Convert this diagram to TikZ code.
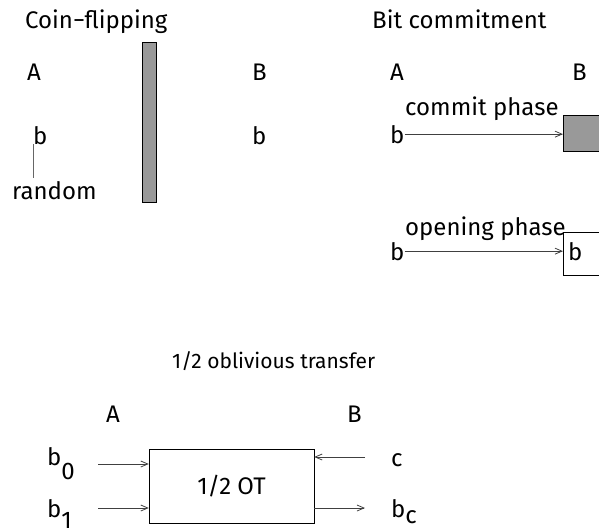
\documentclass[tikz,border=0pt]{standalone}
\usepackage{fontspec}
\setmainfont{Fira Sans}
\usetikzlibrary{positioning, arrows.meta}

\begin{document}
\begin{tikzpicture}[
        x = 1pt, y = -1pt,
        ->,
        >= {Straight Barb[length = 7pt, width = 6pt]},
        every node/.style = {font = \fontsize{24}{28}\selectfont, inner sep = 0pt},
        lbl/.style = {anchor = base west},
        wall/.style = {draw, fill = gray!80},
        box/.style = {draw, anchor = north west},
        wire/.style = {draw = black!75, line width = 0.8pt}]

      \clip (0,0) rectangle (599,528);

      %coin-flipping
      \node[lbl] (CoinTitle) at (25,28) {Coin−flipping};
      \node[lbl] (CoinA) at (27,80) {A};
      \node[lbl] (CoinB) at (252,80) {B};
      \node[lbl] (CoinbA) at (33,144) {b};
      \node[lbl] (CoinbB) at (252,144) {b};
      \node[lbl] (Random) at (12,199) {random};
      \node[wall, minimum width = 14, minimum height = 160] (Wall) at (149,122) {};

      %bit commitment
      \node[lbl] (BitTitle) at (372,28) {Bit commitment};
      \node[lbl] (BitA) at (390,80) {A};
      \node[lbl] (BitB) at (572,80) {B};
      \node[lbl] (CommitLabel) at (405,115) {commit phase};
      \node[lbl] (CommitBit) at (390,143) {b};
      \node[box, fill = gray!80, minimum width = 50, minimum height = 36] (CommitBox) at (563,115) {};
      \node[lbl] (OpenLabel) at (405,235) {opening phase};
      \node[lbl] (OpenBit) at (390,260) {b};
      \node[box, minimum width = 50, minimum height = 43] (OpenBox) at (563,232) {};
      \node[lbl] (OpenBoxBit) at (568,260) {b};

      %oblivious transfer
      \node[lbl, font = \fontsize{21}{25}\selectfont] (OTTitle) at (172,368) {1/2 oblivious transfer};
      \node[lbl] (OTA) at (106,422) {A};
      \node[lbl] (OTB) at (347,422) {B};
      \node[draw, minimum width = 165, minimum height = 74] (OT) at (231.5,486) {1/2 OT};
      \node[lbl] (BZero) at (47,465) {b\raisebox{-14pt}{0}};
      \node[lbl] (BOne) at (47,517) {b\raisebox{-11pt}{1}};
      \node[lbl] (Choice) at (391,466) {c};
      \node[lbl] (BChoice) at (391,517) {b\raisebox{-6pt}{c}};
      \coordinate (BZeroIn) at (98,464);
      \coordinate (BOneIn) at (98,508);
      \coordinate (ChoiceIn) at (365,457);
      \coordinate (BChoiceOut) at (365,508);

      \begin{scope}[-]
      %line to random
        \path
        (CoinbA.south west) edge[draw = black!60, line width = 0.8pt, shorten > = 3pt] (CoinbA.south west |- Random.north)
        ;
      \end{scope}

      \begin{scope}[every edge/.append style = wire]
      %messages
        \path
        (CommitBit.east) edge (CommitBit.east -| CommitBox.west)
        (OpenBit.east) edge (OpenBit.east -| OpenBox.west)
        (BZeroIn) edge (BZeroIn -| OT.west)
        (BOneIn) edge (BOneIn -| OT.west)
        (ChoiceIn) edge (ChoiceIn -| OT.east)
        (BChoiceOut -| OT.east) edge (BChoiceOut)
        ;
      \end{scope}
    \end{tikzpicture}
\end{document}
